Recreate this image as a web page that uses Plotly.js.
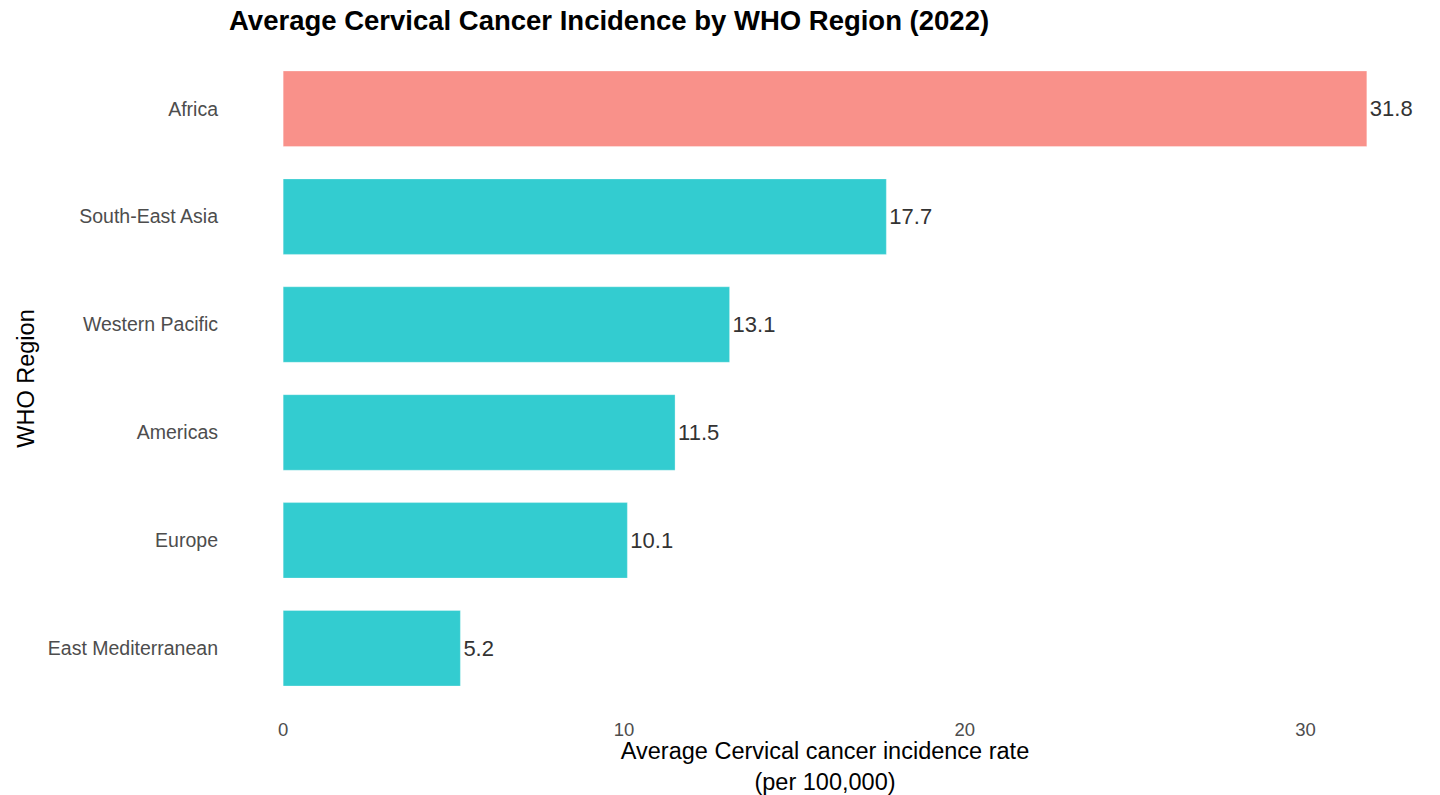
<!DOCTYPE html>
<html>
<head>
<meta charset="utf-8">
<script src="https://cdn.plot.ly/plotly-3.0.1.min.js"></script>
<style>html,body{margin:0;padding:0;background:#fff;}#chart{width:1440px;height:795px;}</style>
</head>
<body>
<div id="chart"></div>
<script>
const regions = ["Africa", "South-East Asia", "Western Pacific", "Americas", "Europe", "East Mediterranean"];
const incidence = [31.8, 17.7, 13.1, 11.5, 10.1, 5.2];
const labels = ["31.8", "17.7", "13.1", "11.5", "10.1", "5.2"];
const barColors = ["#F9918A", "#33CCD0", "#33CCD0", "#33CCD0", "#33CCD0", "#33CCD0"];
const xTicks = [0, 10, 20, 30];

const maxVal = Math.max(...incidence);
const pad = maxVal * 0.05;

const trace = {
  type: "bar",
  orientation: "h",
  y: regions,
  x: incidence,
  width: 0.7,
  marker: {color: barColors, line: {color: "rgba(255,255,255,0.6)", width: 0.5}},
  text: labels,
  textposition: "outside",
  constraintext: "none",
  cliponaxis: false,
  textfont: {family: "Liberation Sans, Arial, sans-serif", size: 22, color: "#333333"},
  hoverinfo: "x+y"
};

const layout = {
  width: 1440,
  height: 795,
  margin: {l: 229, r: 19, t: 44, b: 82},
  paper_bgcolor: "#ffffff",
  plot_bgcolor: "#ffffff",
  font: {family: "Liberation Sans, Arial, sans-serif"},
  showlegend: false,
  title: {
    text: "<b>Average Cervical Cancer Incidence by WHO Region (2022)</b>",
    font: {size: 27.5, color: "#000000"},
    x: 0, xref: "paper", xanchor: "left",
    y: 1 - 20/795, yref: "container", yanchor: "middle"
  },
  xaxis: {
    range: [-pad, maxVal + pad],
    tickvals: xTicks,
    ticktext: xTicks.map(String),
    showgrid: false,
    zeroline: false,
    showline: false,
    ticks: "",
    ticklabelstandoff: 3,
    tickfont: {size: 18.5, color: "#4D4D4D"},
    title: {text: "Average Cervical cancer incidence rate<br>(per 100,000)", font: {size: 23.5, color: "#000000"}, standoff: 5}
  },
  yaxis: {
    type: "category",
    categoryorder: "array",
    categoryarray: regions,
    range: [5.6, -0.6],
    showgrid: false,
    zeroline: false,
    showline: false,
    ticks: "",
    ticklabelstandoff: 10,
    tickfont: {size: 19.5, color: "#4D4D4D"},
    title: {text: "WHO Region", font: {size: 23.5, color: "#000000"}, standoff: 6}
  },
  bargap: 0.3
};

Plotly.newPlot("chart", [trace], layout, {displayModeBar: false, staticPlot: true});
</script>
</body>
</html>
